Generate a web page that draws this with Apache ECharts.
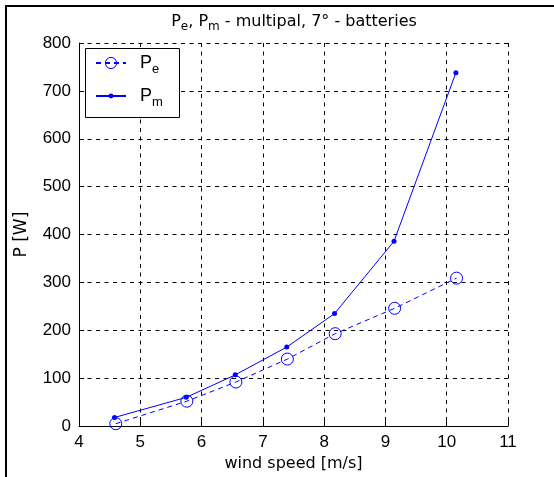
<!DOCTYPE html>
<html>
<head>
<meta charset="utf-8">
<script src="https://cdn.jsdelivr.net/npm/echarts@6/dist/echarts.min.js"></script>
<style>
html,body{margin:0;padding:0;background:#fff;}
#c{width:554px;height:477px;}
</style>
</head>
<body>
<div id="c"></div>
<script>
// Data
const windSpeedPe = [4.60, 5.76, 6.56, 7.40, 8.18, 9.15, 10.16];
const valuesPe    = [5, 52, 92, 140, 193, 246, 309];
const windSpeedPm = [4.58, 5.75, 6.55, 7.39, 8.17, 9.14, 10.15];
const valuesPm    = [18, 60, 107, 165, 235, 386, 738];
const xTicks = [4, 5, 6, 7, 8, 9, 10, 11];
const yTicks = [0, 100, 200, 300, 400, 500, 600, 700, 800];

const FONT = "'Liberation Sans', Arial, Helvetica, sans-serif";
const WIDE = "'DejaVu Sans', Verdana, sans-serif";
const BLUE = '#0000ff';

const chart = echarts.init(document.getElementById('c'), null, {renderer: 'canvas'});

const richTitle = {
  n: {fontFamily: WIDE, fontSize: 16, color: '#000'},
  s: {fontFamily: WIDE, fontSize: 12, color: '#000', padding: [10, 0, 0, 0]}
};
const richLegend = {
  n: {fontFamily: FONT, fontSize: 18, color: '#000'},
  s: {fontFamily: FONT, fontSize: 13, color: '#000', padding: [12, 0, 0, 0]}
};

chart.setOption({
  backgroundColor: '#fff',
  animation: false,
  title: {
    text: '{n|P}{s|e}{n|, P}{s|m}{n| - multipal, 7° - batteries}',
    left: 289,
    textAlign: 'center',
    top: 6,
    textStyle: {fontFamily: WIDE, fontSize: 16, fontWeight: 'normal', color: '#000', rich: richTitle}
  },
  grid: {left: 79, right: 46, top: 43, bottom: 50.5, containLabel: false},
  xAxis: {
    type: 'value',
    min: xTicks[0], max: xTicks[xTicks.length - 1], interval: 1,
    name: 'wind speed [m/s]',
    nameLocation: 'middle',
    nameGap: 29,
    nameTextStyle: {fontFamily: WIDE, fontSize: 16, color: '#000'},
    axisLine: {show: true, lineStyle: {color: '#000', width: 1}},
    axisTick: {show: true, inside: true, length: 5, lineStyle: {color: '#000'}},
    axisLabel: {fontFamily: FONT, fontSize: 17, color: '#000', margin: 8},
    splitLine: {show: true, lineStyle: {color: '#000', width: 1, type: [4, 4.5]}}
  },
  yAxis: {
    type: 'value',
    min: yTicks[0], max: yTicks[yTicks.length - 1], interval: 100,
    name: 'P [W]',
    nameLocation: 'middle',
    nameGap: 49,
    nameTextStyle: {fontFamily: WIDE, fontSize: 17, color: '#000'},
    axisLine: {show: true, lineStyle: {color: '#000', width: 1}},
    axisTick: {show: true, inside: true, length: 5, lineStyle: {color: '#000'}},
    axisLabel: {fontFamily: FONT, fontSize: 17, color: '#000', margin: 8},
    splitLine: {show: true, lineStyle: {color: '#000', width: 1, type: [4, 4.5]}}
  },
  legend: [
    {
      data: ['Pe'],
      left: 95, top: 54,
      z: 10,
      itemWidth: 30, itemHeight: 14, itemGap: 0,
      padding: 0,
      itemStyle: {borderWidth: 1, color: 'rgba(0,0,0,0)', borderColor: BLUE},
      formatter: () => '{n|P}{s|e}',
      textStyle: {fontFamily: FONT, fontSize: 18, color: '#000', rich: richLegend, padding: [0, 0, 0, 9]}
    },
    {
      data: ['Pm'],
      left: 95, top: 87,
      z: 10,
      itemWidth: 30, itemHeight: 6, itemGap: 0,
      padding: 0,
      formatter: () => '{n|P}{s|m}',
      textStyle: {fontFamily: FONT, fontSize: 18, color: '#000', rich: richLegend, padding: [0, 0, 0, 9]}
    }
  ],
  graphic: [
    {type: 'rect', z: 3, shape: {x: 85.5, y: 48.5, width: 94, height: 69}, style: {fill: '#fff', stroke: '#000', lineWidth: 1}},
    {type: 'line', z: 3, shape: {x1: 5, y1: 6, x2: 554, y2: 6}, style: {stroke: '#000', lineWidth: 2}},
    {type: 'line', z: 3, shape: {x1: 6, y1: 5, x2: 6, y2: 477}, style: {stroke: '#000', lineWidth: 2}}
  ],
  series: [
    {
      name: 'Pe',
      type: 'line',
      data: windSpeedPe.map((x, i) => [x, valuesPe[i]]),
      symbol: 'circle',
      symbolSize: 12,
      showAllSymbol: true,
      lineStyle: {color: BLUE, width: 1, type: [5, 4]},
      itemStyle: {color: 'rgba(0,0,0,0)', borderColor: BLUE, borderWidth: 1},
      emphasis: {disabled: true},
      z: 2
    },
    {
      name: 'Pm',
      type: 'line',
      data: windSpeedPm.map((x, i) => [x, valuesPm[i]]),
      symbol: 'circle',
      symbolSize: 5,
      showAllSymbol: true,
      lineStyle: {color: BLUE, width: 1, type: 'solid'},
      itemStyle: {color: BLUE},
      emphasis: {disabled: true},
      z: 2
    }
  ]
});
</script>
</body>
</html>
